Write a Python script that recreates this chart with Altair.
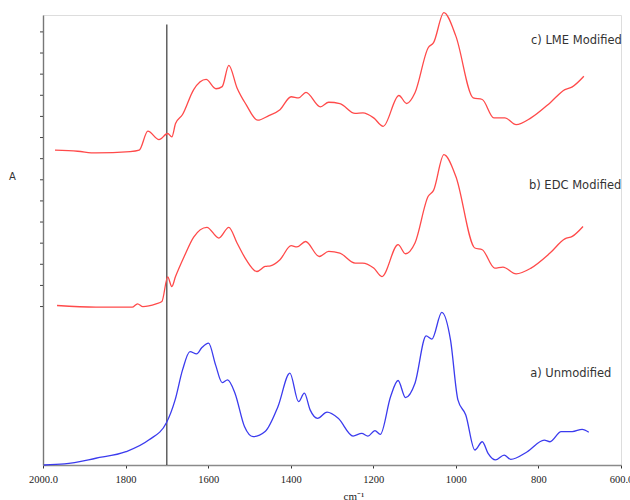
import altair as alt
import pandas as pd

# Wavenumber (cm-1) and absorbance (offset, a.u.)
wn_lme = [1971, 1916, 1872, 1789, 1767, 1746, 1719, 1698, 1688, 1679, 1662, 1635, 1605, 1581, 1566,
          1550, 1530, 1508, 1480, 1453, 1426, 1399, 1381, 1363, 1328, 1308, 1281, 1244, 1225, 1199,
          1176, 1138, 1119, 1099, 1067, 1054, 1029, 1000, 958, 936, 908, 881, 854, 818, 772, 736,
          718, 690]
a_lme = [1.490, 1.485, 1.477, 1.483, 1.490, 1.580, 1.540, 1.569, 1.553, 1.616, 1.659, 1.777, 1.825,
         1.781, 1.791, 1.892, 1.785, 1.706, 1.632, 1.654, 1.682, 1.743, 1.738, 1.764, 1.695, 1.717,
         1.711, 1.664, 1.667, 1.643, 1.603, 1.749, 1.711, 1.762, 1.975, 1.999, 2.141, 2.030, 1.738,
         1.730, 1.643, 1.643, 1.611, 1.643, 1.714, 1.777, 1.790, 1.840]

wn_edc = [1966, 1872, 1784, 1771, 1758, 1726, 1712, 1698, 1688, 1679, 1658, 1635, 1603, 1574, 1550,
          1530, 1508, 1482, 1462, 1449, 1426, 1399, 1385, 1364, 1331, 1308, 1281, 1244, 1226, 1199,
          1179, 1140, 1122, 1099, 1067, 1054, 1029, 1000, 954, 936, 906, 886, 854, 818, 772, 736,
          718, 692]
a_edc = [0.755, 0.747, 0.747, 0.763, 0.750, 0.763, 0.774, 0.890, 0.845, 0.892, 0.987, 1.079, 1.125,
         1.074, 1.125, 1.051, 0.972, 0.916, 0.940, 0.943, 0.972, 1.038, 1.032, 1.058, 0.987, 1.011,
         1.003, 0.956, 0.956, 0.932, 0.892, 1.043, 1.000, 1.051, 1.272, 1.300, 1.469, 1.366, 1.027,
         1.019, 0.932, 0.937, 0.905, 0.932, 1.003, 1.070, 1.082, 1.129]

wn_unm = [1998, 1948, 1872, 1799, 1744, 1701, 1680, 1662, 1644, 1628, 1615, 1599, 1582, 1566, 1553,
          1535, 1512, 1491, 1462, 1431, 1402, 1381, 1367, 1353, 1335, 1312, 1285, 1249, 1228, 1213,
          1196, 1183, 1158, 1140, 1122, 1099, 1072, 1058, 1034, 1013, 995, 976, 954, 936, 922, 904,
          883, 867, 827, 786, 772, 745, 718, 694, 678]
a_unm = [0.000, 0.005, 0.032, 0.063, 0.118, 0.200, 0.308, 0.450, 0.537, 0.526, 0.556, 0.577, 0.474,
         0.390, 0.403, 0.340, 0.182, 0.134, 0.158, 0.276, 0.435, 0.300, 0.340, 0.261, 0.221, 0.250,
         0.221, 0.137, 0.150, 0.137, 0.163, 0.145, 0.324, 0.400, 0.319, 0.387, 0.611, 0.596, 0.722,
         0.592, 0.308, 0.237, 0.071, 0.110, 0.055, 0.024, 0.047, 0.027, 0.063, 0.118, 0.110, 0.158,
         0.158, 0.169, 0.155]

series_names = ["c) LME Modified", "b) EDC Modified", "a) Unmodified"]
series_colors = ["#ff4a4a", "#ff4a4a", "#3b3bee"]

label_wn = [818, 823, 820]
label_a = [2.009, 1.322, 0.431]

marker_wn = [1700]
marker_top = [2.085]

x_ticks = [2000, 1800, 1600, 1400, 1200, 1000, 800, 600]
y_ticks = [0.75, 0.85, 0.95, 1.05, 1.15, 1.25, 1.35, 1.45, 1.55, 1.65, 1.75, 1.85, 1.95, 2.05]

rows = []
for name, wns, vals in zip(series_names, [wn_lme, wn_edc, wn_unm], [a_lme, a_edc, a_unm]):
    for w, v in zip(wns, vals):
        rows.append({"series": name, "wn": w, "A": v})
df = pd.DataFrame(rows)

labels_df = pd.DataFrame({"text": series_names, "wn": label_wn, "A": label_a})
marker_df = pd.DataFrame({"wn": marker_wn, "top": marker_top, "bottom": [0.0]})
ytick_df = pd.DataFrame({"A": y_ticks})

xscale = alt.Scale(domain=[2000, 600], nice=False)
yscale = alt.Scale(domain=[0, 2.13], nice=False)

xaxis = alt.Axis(
    values=x_ticks, format="d",
    labelExpr="datum.value == 2000 ? '2000.0' : (datum.value == 600 ? '600.0' : datum.label)",
    labelFont="Liberation Serif", labelFontSize=10.5, labelColor="#222",
    labelPadding=6, tickSize=3, tickColor="#333", grid=False,
    domainColor="#8a8a8a", domainWidth=1.6, labelFlush=False,
    title="cm⁻¹", titleFont="Liberation Serif", titleFontSize=11, titleFontWeight="normal",
    titleColor="#222", titleX=300, titleY=25, titleBaseline="top", titleAnchor="start",
)
yaxis = alt.Axis(
    labels=False, ticks=False, grid=False,
    domainColor="#777", domainWidth=1.4,
    title="A", titleAngle=0, titleX=-31, titleY=161, titleAlign="center",
    titleBaseline="middle", titleFont="DejaVu Sans", titleFontSize=10,
    titleFontWeight="normal", titleColor="#333",
)

lines = alt.Chart(df).mark_line(strokeWidth=1.3, interpolate="monotone").encode(
    x=alt.X("wn:Q", scale=xscale, axis=xaxis),
    y=alt.Y("A:Q", scale=yscale, axis=yaxis),
    color=alt.Color("series:N", scale=alt.Scale(domain=series_names, range=series_colors), legend=None),
    detail="series:N",
    order=alt.Order("wn:Q", sort="descending"),
)

yticks = alt.Chart(ytick_df).mark_rule(color="#444", strokeWidth=1).encode(
    y=alt.Y("A:Q", scale=yscale),
    x=alt.value(-3),
    x2=alt.value(0),
)

marker = alt.Chart(marker_df).mark_rule(color="#111", strokeWidth=1).encode(
    x=alt.X("wn:Q", scale=xscale),
    y=alt.Y("bottom:Q", scale=yscale),
    y2="top:Q",
)

texts = alt.Chart(labels_df).mark_text(
    align="left", baseline="middle", font="DejaVu Sans", fontSize=11.5, color="#333"
).encode(
    x=alt.X("wn:Q", scale=xscale),
    y=alt.Y("A:Q", scale=yscale),
    text="text:N",
)

chart = alt.layer(marker, lines, yticks, texts).properties(
    width=578, height=450,
    autosize=alt.AutoSizeParams(type="none"),
    padding={"left": 43, "top": 15, "right": 9, "bottom": 35},
).configure_view(stroke=None).configure(background="white")

chart.save("out.html", embed_options={"renderer": "svg", "actions": False})
